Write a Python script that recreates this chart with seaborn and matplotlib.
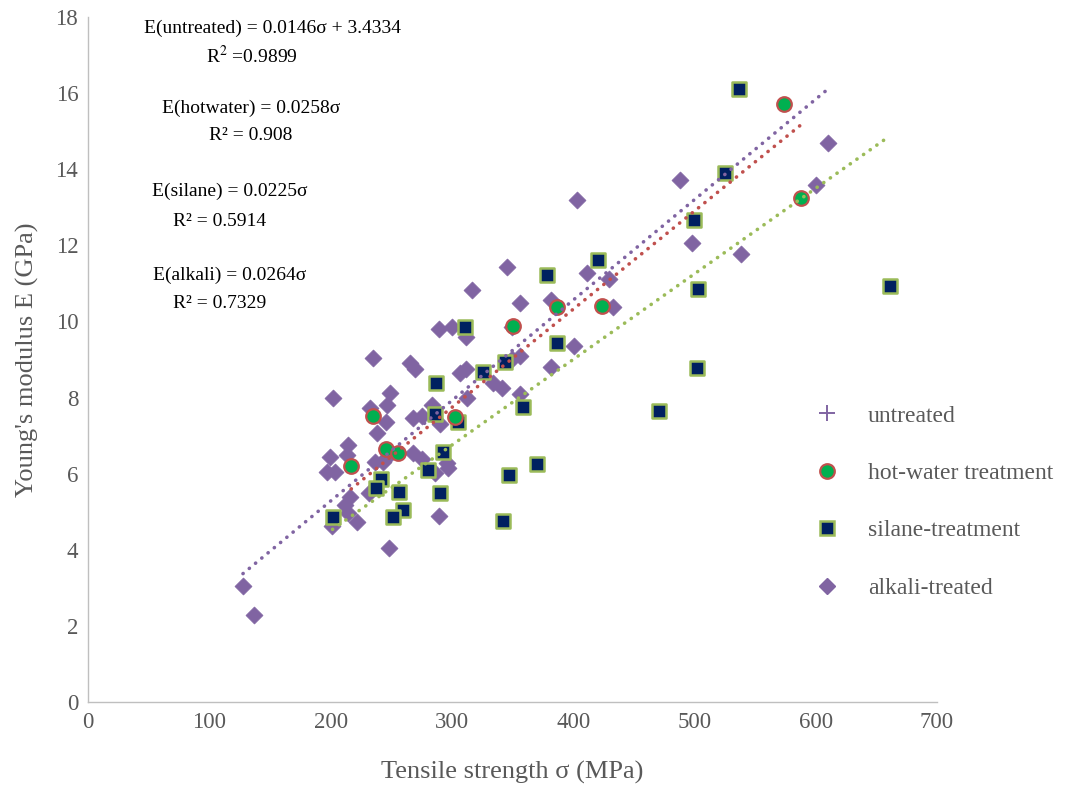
import numpy as np
import pandas as pd
import matplotlib
matplotlib.use("Agg")
import matplotlib.pyplot as plt
from matplotlib.lines import Line2D
import seaborn as sns

# ---------------- data ----------------
hot_sigma = [217, 235, 246, 256, 303, 350, 387, 424, 574, 588]
hot_E = [6.20, 7.51, 6.65, 6.54, 7.49, 9.88, 10.38, 10.40, 15.71, 13.24]

sil_sigma = [536.7, 525, 499.6, 503, 661, 502, 470.8, 420.5, 378.4, 386.7,
             358.7, 343.8, 325.7, 310.8, 305, 287, 286, 292.7, 280, 241.5,
             237.5, 256.5, 260, 251.5, 201.6, 290.2, 347, 370, 342]
sil_E = [16.10, 13.90, 12.66, 10.85, 10.93, 8.78, 7.65, 11.61, 11.22, 9.43,
         7.75, 8.93, 8.67, 9.85, 7.36, 8.38, 7.57, 6.57, 6.10, 5.86,
         5.62, 5.51, 5.04, 4.86, 4.86, 5.49, 5.96, 6.25, 4.75]

alk_sigma = [127.8, 136.9, 197, 203.6, 199.5, 201, 202, 212, 213.5, 214.4,
             214.5, 216, 221.5, 231.7, 232.5, 235, 236.6, 238.3, 245.7, 246.5,
             246.5, 248.5, 249, 265.5, 270, 268, 268, 275, 275.4, 283.6,
             286, 289.6, 289.4, 290, 296, 297, 300, 306.7, 311.6, 311.6,
             312.5, 316.6, 334, 341, 345.4, 349.6, 349.5, 356, 356, 356,
             381.7, 381.7, 400.7, 403, 411.4, 429.6, 432.8, 488, 498, 538,
             600, 610, 243]
alk_E = [3.05, 2.29, 6.04, 6.04, 6.44, 4.62, 7.99, 5.18, 6.49, 6.75,
         4.97, 5.39, 4.73, 5.49, 7.72, 9.04, 6.31, 7.07, 7.36, 7.80,
         6.44, 4.05, 8.12, 8.90, 8.75, 6.54, 7.46, 7.51, 6.38, 7.80,
         6.02, 4.89, 9.80, 7.30, 6.28, 6.15, 9.85, 8.64, 9.59, 8.74,
         7.99, 10.83, 8.38, 8.25, 11.43, 9.85, 9.01, 10.48, 9.09, 8.09,
         10.56, 8.80, 9.35, 13.19, 11.27, 11.11, 10.38, 13.71, 12.06, 11.77,
         13.58, 14.69, 6.30]

# trendline slopes (through origin), from the equations on the chart
slope_hot = 0.0258
slope_sil = 0.0225
slope_alk = 0.0264

x_ticks = [0, 100, 200, 300, 400, 500, 600, 700]
y_ticks = [0, 2, 4, 6, 8, 10, 12, 14, 16, 18]

eq_lines = [
    ("E(untreated) = 0.0146σ + 3.4334", 272, 28),
    ("R$^{2}$ =0.9899", 252, 56),
    ("E(hotwater) = 0.0258σ", 251, 108),
    ("R² = 0.908", 251, 136),
    ("E(silane) = 0.0225σ", 230, 191),
    ("R² = 0.5914", 220, 221),
    ("E(alkali) = 0.0264σ", 230, 275),
    ("R² = 0.7329", 220, 304),
]

# ---------------- styling ----------------
sns.set_style("white")
plt.rcParams['font.family'] = ['Liberation Serif', 'DejaVu Serif']
plt.rcParams['mathtext.fontset'] = 'stix'

PURPLE = '#8064A2'
RED = '#C0504D'
GREEN_EDGE = '#9BBB59'
NAVY = '#002060'
GREEN = '#00B050'
GRAY = '#595959'

W, H = 1067, 787
fig = plt.figure(figsize=(W / 100, H / 100), dpi=100)
ax = fig.add_axes([88 / W, 1 - 702 / H, (937 - 88) / W, (702 - 17) / H])

hot = pd.DataFrame({'sigma': hot_sigma, 'E': hot_E})
sil = pd.DataFrame({'sigma': sil_sigma, 'E': sil_E})
alk = pd.DataFrame({'sigma': alk_sigma, 'E': alk_E})

sns.scatterplot(data=alk, x='sigma', y='E', ax=ax, marker='D', s=75,
                color=PURPLE, edgecolor=PURPLE, linewidth=0.5, zorder=3)
sns.scatterplot(data=sil, x='sigma', y='E', ax=ax, marker='s', s=100,
                color=NAVY, edgecolor=GREEN_EDGE, linewidth=1.8, zorder=4)
sns.scatterplot(data=hot, x='sigma', y='E', ax=ax, marker='o', s=110,
                color=GREEN, edgecolor=RED, linewidth=1.6, zorder=5)

# trendlines over each series' range
dot = (0, (0.05, 2.2))
for df, k, c in [(alk, slope_alk, PURPLE), (hot, slope_hot, RED), (sil, slope_sil, GREEN_EDGE)]:
    xs = np.array([df['sigma'].min(), df['sigma'].max()])
    ax.plot(xs, k * xs, linestyle=dot, color=c, linewidth=2.6,
            dash_capstyle='round', zorder=6)

ax.set_xlim(0, 700)
ax.set_ylim(0, 18)
ax.set_xticks(x_ticks)
ax.set_yticks(y_ticks)
ax.tick_params(axis='both', labelsize=16.5, colors=GRAY, length=0, pad=7)
for s in ['top', 'right']:
    ax.spines[s].set_visible(False)
for s in ['left', 'bottom']:
    ax.spines[s].set_color('#BFBFBF')
    ax.spines[s].set_linewidth(1)
ax.set_xlabel('Tensile strength σ (MPa)', fontsize=19, color=GRAY, labelpad=20)
ax.set_ylabel("Young's modulus E (GPa)", fontsize=19, color=GRAY, labelpad=12)
ax.grid(False)

handles = [
    Line2D([], [], linestyle='none', marker='+', markersize=11, markeredgewidth=1.4, color=PURPLE),
    Line2D([], [], linestyle='none', marker='o', markersize=10.5, markerfacecolor=GREEN,
           markeredgecolor=RED, markeredgewidth=1.6),
    Line2D([], [], linestyle='none', marker='s', markersize=10, markerfacecolor=NAVY,
           markeredgecolor=GREEN_EDGE, markeredgewidth=1.8),
    Line2D([], [], linestyle='none', marker='D', markersize=8.5, markerfacecolor=PURPLE,
           markeredgecolor=PURPLE),
]
labels = ['untreated', 'hot-water treatment', 'silane-treatment', 'alkali-treated']
leg = fig.legend(handles, labels, loc='upper left', bbox_to_anchor=(803 / W, 1 - 405 / H),
                 frameon=False, fontsize=17, labelspacing=1.52, handletextpad=0.75,
                 handlelength=2.0, borderaxespad=0, borderpad=0)
for t in leg.get_texts():
    t.set_color(GRAY)

for txt, px, py in eq_lines:
    fig.text(px / W, 1 - py / H, txt, ha='center', va='center', fontsize=14, color='black')

fig.savefig('out.png', dpi=100)
